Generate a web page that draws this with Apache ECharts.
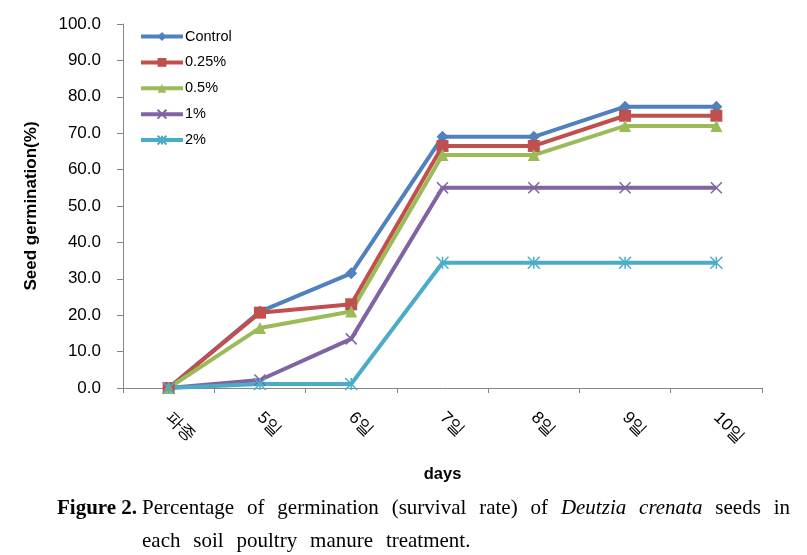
<!DOCTYPE html>
<html><head><meta charset="utf-8">
<script src="https://cdn.jsdelivr.net/npm/echarts@6/dist/echarts.min.js"></script>
<style>html,body{margin:0;padding:0;background:#fff}#c{width:807px;height:555px}</style>
</head><body><div id="c"></div>
<script>
var categories = ['파종','5일','6일','7일','8일','9일','10일'];
var seriesNames = ['Control','0.25%','0.5%','1%','2%'];
var control = [0, 21.0, 31.5, 69.0, 69.0, 77.3, 77.3];
var p025 = [0, 20.7, 23.0, 66.5, 66.5, 74.8, 74.8];
var p05 = [0, 16.5, 21.0, 64.0, 64.0, 72.0, 72.0];
var p1 = [0, 2.2, 13.5, 55.0, 55.0, 55.0, 55.0];
var p2 = [0, 1.1, 1.1, 34.4, 34.4, 34.4, 34.4];
var yTicks = [0,10,20,30,40,50,60,70,80,90,100];

var colors = ['#4F81BD','#C0504D','#9BBB59','#8064A2','#4BACC6'];
var symbols = ['diamond','rect','triangle',
  'path://M0,0L10,10M10,0L0,10',
  'path://M0,0L10,10M10,0L0,10M5,0L5,10'];
var sizes = [12,12,12,11,12];
var datas = [control,p025,p05,p1,p2];

var chart = echarts.init(document.getElementById('c'), null, {renderer:'canvas'});
var series = datas.map(function(d,i){
  var stroked = i >= 3;
  return {
    name: seriesNames[i], type:'line', data:d,
    symbol: symbols[i], symbolSize: sizes[i], showAllSymbol:true,
    lineStyle:{color:colors[i], width:4},
    itemStyle: stroked ? {color:colors[i], borderColor:colors[i], borderWidth:1.5, opacity:1}
                       : {color:colors[i], borderWidth:0},
    emphasis:{disabled:true}, animation:false
  };
});

// caption layout (justified words)
var capFont = '21px "Liberation Serif"';
var capItFont = 'italic 21px "Liberation Serif"';
var cv = document.createElement('canvas').getContext('2d');
function w(t, f){ cv.font = f; return cv.measureText(t).width; }
var line1 = [['Percentage',0],['of',0],['germination',0],['(survival',0],['rate)',0],['of',0],['Deutzia',1],['crenata',1],['seeds',0],['in',0]];
var line2 = [['each',0],['soil',0],['poultry',0],['manure',0],['treatment.',0]];
var x0 = 142, x1 = 790;
var tot = 0; line1.forEach(function(p){ tot += w(p[0], p[1]?capItFont:capFont); });
var gap = (x1 - x0 - tot) / (line1.length - 1);
var graphics = [];
graphics.push({type:'text', left:57, top:498, style:{text:'Figure 2.', font:'bold 21px "Liberation Serif"', fill:'#000'}});
function layLine(words, y, g){
  var x = x0;
  words.forEach(function(p){
    var f = p[1]?capItFont:capFont;
    graphics.push({type:'text', x:x, y:y, style:{text:p[0], font:f, fill:'#000', textVerticalAlign:'top'}});
    x += w(p[0], f) + g;
  });
}
layLine(line1, 498, gap);
layLine(line2, 531, gap);

chart.setOption({
  animation:false,
  color: colors,
  grid:{left:123, right:45, top:24, bottom:167, containLabel:false},
  legend:{
    orient:'vertical', left:139, top:29, padding:0, itemWidth:42, itemHeight:11, itemGap:10.9,
    lineStyle:{width:4},
    textStyle:{fontFamily:'Liberation Sans', fontSize:14.5, color:'#000', padding:[0,0,0,-3]},
    data: seriesNames
  },
  xAxis:{
    type:'category', data:categories, boundaryGap:true,
    name:'days', nameLocation:'middle', nameGap:78,
    nameTextStyle:{fontFamily:'Liberation Sans', fontWeight:'bold', fontSize:16.5, color:'#000'},
    axisLine:{lineStyle:{color:'#868686', width:1}},
    axisTick:{show:true, length:5, lineStyle:{color:'#868686'}},
    axisLabel:{rotate:-45, margin:27, fontFamily:'Liberation Sans', fontSize:17, color:'#000'}
  },
  yAxis:{
    type:'value', min:yTicks[0], max:yTicks[yTicks.length-1], interval:10,
    name:'Seed germination(%)', nameLocation:'middle', nameGap:83,
    nameTextStyle:{fontFamily:'Liberation Sans', fontWeight:'bold', fontSize:17, color:'#000'},
    axisLine:{show:true, lineStyle:{color:'#868686', width:1}},
    axisTick:{show:true, length:6, lineStyle:{color:'#868686'}},
    splitLine:{show:false},
    axisLabel:{margin:22, fontFamily:'Liberation Sans', fontSize:17, color:'#000',
      formatter:function(v){return v.toFixed(1);}}
  },
  series: series,
  graphic: graphics
});
</script></body></html>
